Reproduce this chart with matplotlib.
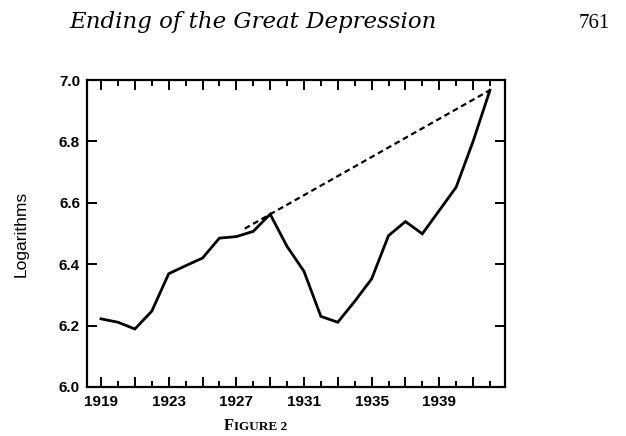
import matplotlib
matplotlib.use("Agg")
import matplotlib.pyplot as plt
from matplotlib.ticker import FixedLocator, NullFormatter

years = [1919, 1920, 1921, 1922, 1923, 1924, 1925, 1926, 1927, 1928, 1929, 1930,
         1931, 1932, 1933, 1934, 1935, 1936, 1937, 1938, 1939, 1940, 1941, 1942]
log_gnp = [6.222, 6.211, 6.189, 6.247, 6.369, 6.395, 6.420, 6.485, 6.490, 6.507, 6.563, 6.458,
           6.377, 6.230, 6.211, 6.279, 6.352, 6.493, 6.539, 6.499, 6.575, 6.651, 6.800, 6.967]

# pre-1929 trend extended forward
trend_years = [1927.5, 1942]
trend_vals = [6.516, 6.967]

label_years = [1919, 1923, 1927, 1931, 1935, 1939]
y_ticks = [6.0, 6.2, 6.4, 6.6, 6.8, 7.0]

num_font = ["Liberation Sans Narrow", "Liberation Sans"]

fig = plt.figure(figsize=(6.26, 4.36), dpi=100)
ax = fig.add_axes([0.139, 0.1124, 0.668, 0.704])

ax.plot(years, log_gnp, color="black", lw=2.0, solid_joinstyle="miter")
ax.plot(trend_years, trend_vals, color="black", lw=1.6, dashes=(2.6, 1.7))

ax.set_xlim(1918.17, 1942.9)
ax.set_ylim(6.0, 7.0)

odd_years = list(range(1919, 1943, 2))
even_years = list(range(1920, 1943, 2))
ax.xaxis.set_major_locator(FixedLocator(odd_years))
ax.xaxis.set_minor_locator(FixedLocator(even_years))
ax.set_xticklabels([str(y) if y in label_years else "" for y in odd_years])
ax.xaxis.set_minor_formatter(NullFormatter())
ax.set_yticks(y_ticks)
ax.set_yticklabels([f"{v:.1f}" for v in y_ticks])

ax.tick_params(axis="x", which="major", direction="in", length=7, width=1.4,
               top=True, pad=6, labelsize=11)
ax.tick_params(axis="x", which="minor", direction="in", length=4, width=1.4, top=True)
ax.tick_params(axis="y", direction="in", length=7, width=1.4, right=True,
               pad=5, labelsize=11)
for lab in ax.get_xticklabels() + ax.get_yticklabels():
    lab.set_family(num_font)
    lab.set_weight("bold")

for s in ax.spines.values():
    s.set_linewidth(1.6)

ax.set_ylabel("Logarithms", fontsize=12.5, family=num_font, labelpad=22)

fig.text(0.11, 0.935, "Ending of the Great Depression", fontsize=16.5,
         family="DejaVu Serif", style="italic", ha="left", va="baseline")
fig.text(0.975, 0.935, "761", fontsize=15, family="Liberation Serif",
         ha="right", va="baseline")
fig.text(0.374, 0.013, "F", fontsize=12, family="Liberation Serif", ha="right",
         va="baseline", weight="bold")
fig.text(0.374, 0.013, "IGURE 2", fontsize=9.5, family="Liberation Serif", ha="left",
         va="baseline", weight="bold")

fig.savefig("out.png", dpi=100)
